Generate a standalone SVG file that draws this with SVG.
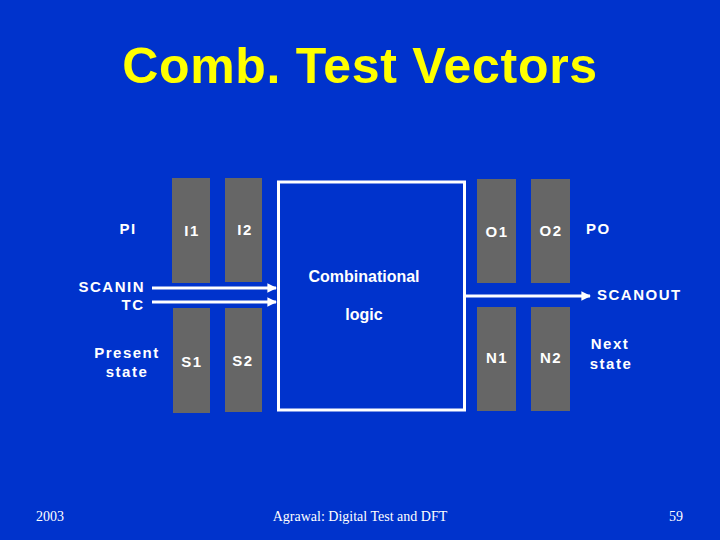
<svg xmlns="http://www.w3.org/2000/svg" width="720" height="540" viewBox="0 0 720 540">
<defs>
<style>
.lbl{font-family:"Liberation Sans",Arial,sans-serif;font-weight:bold;font-size:15px;fill:#fff;letter-spacing:1.5px}
.reg{fill:#666}
.ln{stroke:#fff;stroke-width:3;fill:none}
.ft{font-family:"Liberation Serif","Times New Roman",serif;font-size:14px;fill:#fff}
</style>
<marker id="ah" viewBox="0 0 10 10" refX="9" refY="5" markerWidth="3.2" markerHeight="3.2" orient="auto" markerUnits="strokeWidth">
<path d="M0,0 L10,5 L0,10 z" fill="#fff"/>
</marker>
</defs>
<rect width="720" height="540" fill="#0033cc"/>
<text x="360" y="83" text-anchor="middle" font-family="Liberation Sans,Arial,sans-serif" font-weight="bold" font-size="50" fill="#ffff00" letter-spacing="0.7">Comb. Test Vectors</text>

<g id="labels">
<text class="lbl" x="128" y="234" text-anchor="middle">PI</text>
<text class="lbl" x="145" y="292" text-anchor="end">SCANIN</text>
<text class="lbl" x="133" y="310" text-anchor="middle">TC</text>
<text class="lbl" x="127" y="358" text-anchor="middle">Present</text>
<text class="lbl" x="127" y="377" text-anchor="middle">state</text>
<text class="lbl" x="586" y="234">PO</text>
<text class="lbl" x="597" y="300">SCANOUT</text>
<text class="lbl" x="610" y="349" text-anchor="middle">Next</text>
<text class="lbl" x="611" y="369" text-anchor="middle">state</text>
</g>

<g id="I1"><rect class="reg" x="172" y="178" width="38" height="105"/><text class="lbl" x="192" y="236" text-anchor="middle">I1</text></g>
<g id="I2"><rect class="reg" x="225" y="178" width="37" height="104"/><text class="lbl" x="245" y="235" text-anchor="middle">I2</text></g>
<g id="S1"><rect class="reg" x="173" y="308" width="37" height="105"/><text class="lbl" x="192" y="367" text-anchor="middle">S1</text></g>
<g id="S2"><rect class="reg" x="225" y="308" width="37" height="104"/><text class="lbl" x="243" y="366" text-anchor="middle">S2</text></g>
<g id="O1"><rect class="reg" x="477" y="179" width="39" height="104"/><text class="lbl" x="497" y="237" text-anchor="middle">O1</text></g>
<g id="O2"><rect class="reg" x="531" y="179" width="39" height="104"/><text class="lbl" x="551" y="236" text-anchor="middle">O2</text></g>
<g id="N1"><rect class="reg" x="477" y="307" width="39" height="104"/><text class="lbl" x="497" y="363" text-anchor="middle">N1</text></g>
<g id="N2"><rect class="reg" x="531" y="307" width="39" height="104"/><text class="lbl" x="551" y="363" text-anchor="middle">N2</text></g>

<g id="logic">
<rect x="278.5" y="182" width="186" height="228" class="ln"/>
<text x="364" y="282" text-anchor="middle" font-family="Liberation Sans,Arial,sans-serif" font-weight="bold" font-size="16" fill="#fff">Combinational</text>
<text x="364" y="320" text-anchor="middle" font-family="Liberation Sans,Arial,sans-serif" font-weight="bold" font-size="16" fill="#fff">logic</text>
</g>

<g id="connectors">
<line class="ln" x1="152" y1="288" x2="276" y2="288" marker-end="url(#ah)"/>
<line class="ln" x1="152" y1="302" x2="276" y2="302" marker-end="url(#ah)"/>
<line class="ln" x1="466" y1="296" x2="590" y2="296" marker-end="url(#ah)"/>
</g>

<g id="footer">
<text class="ft" x="36" y="521">2003</text>
<text class="ft" x="360" y="521" text-anchor="middle">Agrawal: Digital Test and DFT</text>
<text class="ft" x="676" y="521" text-anchor="middle">59</text>
</g>
</svg>
